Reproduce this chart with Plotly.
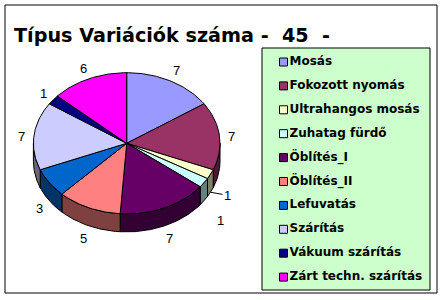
import numpy as np
import plotly.graph_objects as go

categories = ["Mosás", "Fokozott nyomás", "Ultrahangos mosás", "Zuhatag fürdő",
              "Öblítés_I", "Öblítés_II", "Lefuvatás", "Szárítás",
              "Vákuum szárítás", "Zárt techn. szárítás"]
values = [7, 7, 1, 1, 7, 5, 3, 7, 1, 6]
colors = ["#9999FF", "#993366", "#FFFFCC", "#CCFFFF", "#660066",
          "#FF8080", "#0066CC", "#CCCCFF", "#000080", "#FF00FF"]
title_text = "Típus Variációk száma -\u00a0\u00a045\u00a0\u00a0-"

# geometry of the tilted pie (pixel space)
CX, CY, RX, RY, DEPTH = 126.7, 143.3, 93.3, 70.6, 18.0
FONT = "Liberation Sans, Arial, sans-serif"
WIDE = "DejaVu Sans, Verdana, sans-serif"


def darker(hexcol, f=0.5):
    h = hexcol.lstrip("#")
    r, g, b = (int(h[i:i + 2], 16) for i in (0, 2, 4))
    return "#%02X%02X%02X" % (int(r * f), int(g * f), int(b * f))


def pt(theta_deg, dz=0.0):
    t = np.radians(theta_deg)
    return CX + RX * np.sin(t), CY - RY * np.cos(t) + dz


total = sum(values)
bounds = np.concatenate([[0], np.cumsum(values)]) / total * 360.0

fig = go.Figure()

# side walls (front half only)
for i, (a, b) in enumerate(zip(bounds[:-1], bounds[1:])):
    a2, b2 = max(a, 90.0), min(b, 270.0)
    if b2 <= a2:
        continue
    th = np.linspace(a2, b2, max(4, int((b2 - a2)) + 2))
    xt, yt = pt(th)
    xb, yb = pt(th[::-1], DEPTH)
    xs = np.concatenate([xt, xb, xt[:1]])
    ys = np.concatenate([yt, yb, yt[:1]])
    fig.add_trace(go.Scatter(x=xs, y=ys, mode="lines", fill="toself",
                             fillcolor=darker(colors[i]),
                             line=dict(color="black", width=1),
                             hoverinfo="skip", showlegend=False))

# top faces
for i, (a, b) in enumerate(zip(bounds[:-1], bounds[1:])):
    th = np.linspace(a, b, max(4, int((b - a)) + 2))
    xa, ya = pt(th)
    xs = np.concatenate([[CX], xa, [CX]])
    ys = np.concatenate([[CY], ya, [CY]])
    fig.add_trace(go.Scatter(x=xs, y=ys, mode="lines", fill="toself",
                             fillcolor=colors[i],
                             line=dict(color="black", width=1),
                             name=categories[i], hoverinfo="name",
                             showlegend=False))

# value labels
LRX, LRY = RX + 12, RY + 14
small_offsets = {2: (17, 3), 3: (16, 20)}
for i, (a, b) in enumerate(zip(bounds[:-1], bounds[1:])):
    m = (a + b) / 2
    if i in small_offsets:
        px, py = pt(m, DEPTH)
        ax, ay = small_offsets[i]
        fig.add_annotation(x=px, y=py, text=str(values[i]), showarrow=True,
                           arrowhead=0, arrowwidth=1, arrowcolor="black",
                           ax=ax, ay=ay, standoff=0,
                           font=dict(family=FONT, size=13, color="black"))
    else:
        t = np.radians(m)
        lx = CX + LRX * np.sin(t)
        ly = CY - LRY * np.cos(t) + (DEPTH if np.cos(t) < 0 else 2)
        fig.add_annotation(x=lx, y=ly, text=str(values[i]), showarrow=False,
                           font=dict(family=FONT, size=13, color="black"))

# legend box
fig.add_shape(type="rect", x0=262, x1=430, y0=48, y1=290,
              fillcolor="#CCFFCC", line=dict(color="black", width=1), layer="below")
ly0, ldy = 62.0, 23.9
fig.add_trace(go.Scatter(
    x=[283.5] * len(categories),
    y=[ly0 + ldy * k for k in range(len(categories))],
    mode="markers+text",
    marker=dict(symbol="square", size=8, color=colors, line=dict(color="black", width=1)),
    text=categories, textposition="middle right",
    textfont=dict(family=WIDE, size=12, color="black", weight="bold"),
    hoverinfo="skip", showlegend=False))

# outer border
fig.add_shape(type="rect", x0=5, x1=437, y0=5, y1=293,
              line=dict(color="black", width=1), layer="below")

# title
fig.add_annotation(x=12, y=35, text=title_text, showarrow=False,
                   xanchor="left", yanchor="middle",
                   font=dict(family=WIDE, size=19.2, color="black", weight="bold"))

fig.update_layout(
    width=444, height=300, margin=dict(l=0, r=0, t=0, b=0),
    paper_bgcolor="white", plot_bgcolor="white",
    xaxis=dict(range=[0, 444], visible=False, fixedrange=True),
    yaxis=dict(range=[300, 0], visible=False, fixedrange=True),
    showlegend=False,
)

fig.write_html("out.html")
